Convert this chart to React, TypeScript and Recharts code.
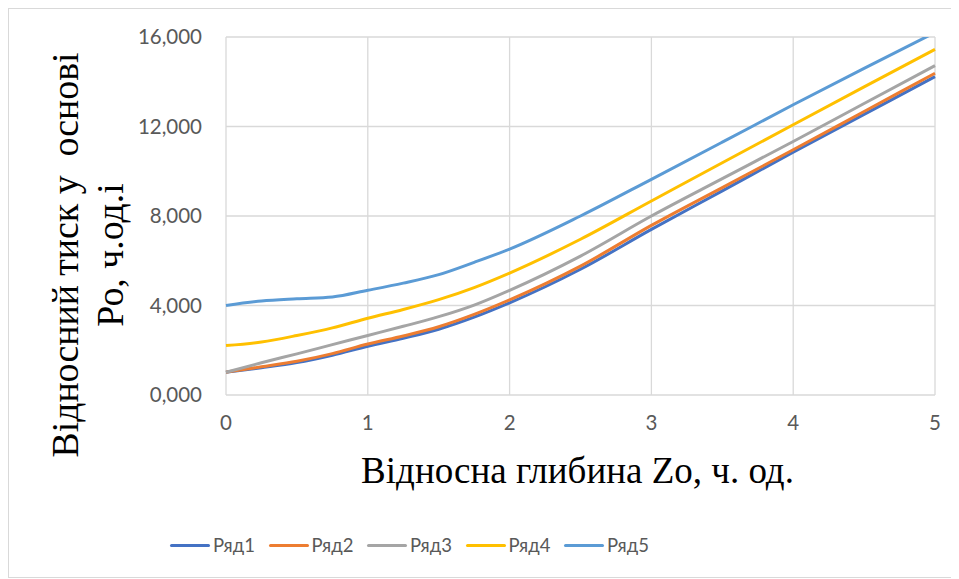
import { CartesianGrid, Legend, Line, LineChart, XAxis, YAxis } from "recharts";

const depth = [0, 0.25, 0.5, 0.75, 1, 1.25, 1.5, 1.75, 2, 2.5, 3, 3.5, 4, 4.5, 5];
const row1 = [1.02, 1.22, 1.45, 1.78, 2.18, 2.54, 2.94, 3.48, 4.12, 5.62, 7.4, 9.12, 10.85, 12.54, 14.23];
const row2 = [1.02, 1.26, 1.51, 1.85, 2.28, 2.64, 3.05, 3.6, 4.25, 5.76, 7.58, 9.27, 10.96, 12.67, 14.38];
const row3 = [1.02, 1.44, 1.84, 2.25, 2.66, 3.07, 3.5, 4.02, 4.68, 6.21, 8.0, 9.67, 11.33, 13.03, 14.72];
const row4 = [2.21, 2.37, 2.66, 3.0, 3.43, 3.82, 4.26, 4.8, 5.45, 6.96, 8.67, 10.38, 12.08, 13.77, 15.45];
const row5 = [4.0, 4.2, 4.3, 4.38, 4.68, 5.0, 5.38, 5.93, 6.52, 8.0, 9.64, 11.3, 12.97, 14.6, 16.2];
const seriesNames = ["Ряд1", "Ряд2", "Ряд3", "Ряд4", "Ряд5"];
const seriesColors = ["#4472C4", "#ED7D31", "#A5A5A5", "#FFC000", "#5B9BD5"];
const xTicks = [0, 1, 2, 3, 4, 5];
const yTicks = [0, 4, 8, 12, 16];

const rows = [row1, row2, row3, row4, row5];
const data = depth.map((z, i) => {
  const point: any = { z };
  seriesNames.forEach((name, s) => (point[name] = rows[s][i]));
  return point;
});

const tickStyle = { fontFamily: "Lato", fontSize: 20.5, fill: "#595959" };
const titleFont = "'Liberation Serif', 'Times New Roman', serif";

const XTitle = ({ viewBox }: any) => (
  <text x={viewBox.x + viewBox.width / 2 - 3} y={viewBox.y + 88} textAnchor="middle"
    fontFamily={titleFont} fontSize={37} fill="#000">
    Відносна глибина Zo, ч. од.
  </text>
);

const YTitle = () => (
  <g fontFamily={titleFont} fontSize={37.8} fill="#000">
    <text transform="translate(56,246) rotate(-90)" textAnchor="middle" dominantBaseline="central"
      xmlSpace="preserve" style={{ whiteSpace: "pre" }}>
      {"Відносний тиск у  основі"}
    </text>
    <text transform="translate(101,246) rotate(-90)" textAnchor="middle" dominantBaseline="central">
      {"Ро, ч.од.і"}
    </text>
  </g>
);

const renderLegend = ({ payload }: any) => (
  <div style={{ display: "flex", paddingLeft: 161, height: 24, alignItems: "center" }}>
    {payload.map((p: any) => (
      <div key={p.value} style={{ display: "flex", alignItems: "center", width: 98.5, flex: "none" }}>
        <div style={{ width: 40, height: 3, background: p.color, borderRadius: 2 }} />
        <span style={{ marginLeft: 3, fontFamily: "Lato", fontSize: 18.5, color: "#595959" }}>{p.value}</span>
      </div>
    ))}
  </div>
);

export default function App() {
  return (
    <div style={{ width: 946, height: 568, border: "1px solid #d9d9d9", background: "#fff" }}>
      <LineChart width={946} height={568} data={data} margin={{ top: 28, right: 20, left: 0, bottom: 152 }}>
        <CartesianGrid stroke="#d9d9d9" strokeWidth={1.3} />
        <XAxis dataKey="z" type="number" domain={[0, 5]} ticks={xTicks} axisLine={false} tickLine={false}
          tickMargin={14} tick={tickStyle} label={<XTitle />} />
        <YAxis type="number" domain={[0, 16]} ticks={yTicks} allowDataOverflow width={217} axisLine={false}
          tickLine={false} tickMargin={18} tick={tickStyle}
          tickFormatter={(v: number) => v.toFixed(3).replace(".", ",")} label={<YTitle />} />
        {seriesNames.map((name, s) => (
          <Line key={name} type="monotone" dataKey={name} stroke={seriesColors[s]} strokeWidth={3}
            dot={false} isAnimationActive={false} />
        ))}
        <Legend layout="horizontal" verticalAlign="middle" align="center" content={renderLegend}
          wrapperStyle={{ top: 524, left: 0, width: 946, height: 24 }} />
      </LineChart>
    </div>
  );
}
